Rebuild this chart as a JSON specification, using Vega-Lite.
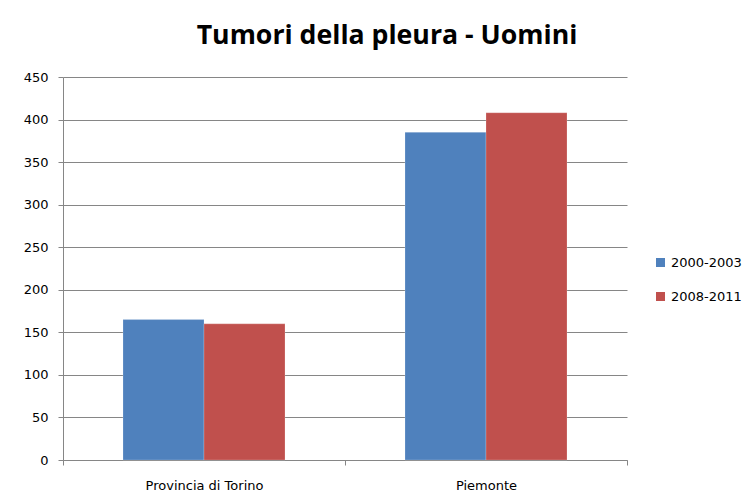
{
  "$schema": "https://vega.github.io/schema/vega-lite/v6.json",
  "width": 564,
  "height": 383,
  "autosize": "none",
  "padding": {"left": 63, "top": 77, "right": 126, "bottom": 43},
  "background": "white",
  "title": {
    "text": "Tumori della pleura - Uomini",
    "font": "Open Sans",
    "fontSize": 26.7,
    "fontWeight": "bold",
    "color": "#000000",
    "anchor": "middle",
    "frame": "group",
    "dx": 42,
    "dy": 30,
    "baseline": "alphabetic",
    "offset": 30
  },
  "data": {
    "values": [
      {"area": "Provincia di Torino", "periodo": "2000-2003", "valore": 165},
      {"area": "Provincia di Torino", "periodo": "2008-2011", "valore": 160},
      {"area": "Piemonte", "periodo": "2000-2003", "valore": 385},
      {"area": "Piemonte", "periodo": "2008-2011", "valore": 408}
    ]
  },
  "mark": {"type": "bar", "stroke": "white", "strokeWidth": 0.5, "strokeOpacity": 0.4},
  "encoding": {
    "x": {
      "field": "area",
      "type": "nominal",
      "sort": ["Provincia di Torino", "Piemonte"],
      "scale": {"paddingInner": 0, "paddingOuter": 0},
      "axis": {
        "title": null,
        "labelAngle": 0,
        "labelFont": "DejaVu Sans",
        "labelFontSize": 13,
        "labelColor": "#000000",
        "labelPadding": 14,
        "tickBand": "extent",
        "tickSize": 5,
        "tickColor": "#868686",
        "domainColor": "#868686",
        "grid": false
      }
    },
    "xOffset": {
      "field": "periodo",
      "type": "nominal",
      "scale": {"paddingInner": 0, "paddingOuter": 0.7407}
    },
    "y": {
      "field": "valore",
      "type": "quantitative",
      "scale": {"domain": [0, 450], "nice": false},
      "axis": {
        "title": null,
        "values": [0, 50, 100, 150, 200, 250, 300, 350, 400, 450],
        "labelFont": "DejaVu Sans",
        "labelFontSize": 13,
        "labelColor": "#000000",
        "labelPadding": 10,
        "tickSize": 5,
        "tickColor": "#868686",
        "domainColor": "#868686",
        "gridColor": "#868686",
        "gridWidth": 1
      }
    },
    "color": {
      "field": "periodo",
      "type": "nominal",
      "scale": {"domain": ["2000-2003", "2008-2011"], "range": ["#4F81BD", "#C0504D"]},
      "legend": {
        "title": null,
        "orient": "none",
        "legendX": 591,
        "legendY": 179,
        "symbolType": "square",
        "symbolSize": 81,
        "symbolStrokeWidth": 0,
        "labelFont": "DejaVu Sans",
        "labelFontSize": 13,
        "labelColor": "#000000",
        "labelOffset": 4,
        "rowPadding": 20
      }
    }
  },
  "config": {"view": {"stroke": null}}
}
